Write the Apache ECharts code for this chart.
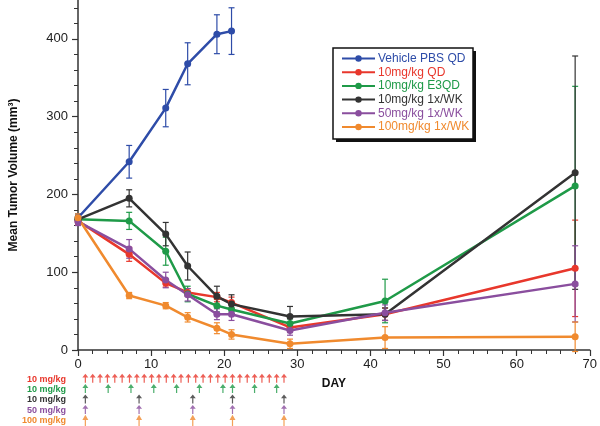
<!DOCTYPE html>
<html><head><meta charset="utf-8">
<script src="https://cdn.jsdelivr.net/npm/echarts@6/dist/echarts.min.js"></script>
<style>html,body{margin:0;padding:0;background:#fff}#c{width:600px;height:426px}</style>
</head><body><div id="c"></div>
<script>
// ---- data ----
const days = [0, 7, 12, 15, 19, 21, 29, 42, 68];
const names = ['Vehicle PBS QD', '10mg/kg QD', '10mg/kg E3QD', '10mg/kg 1x/WK', '50mg/kg 1x/WK', '100mg/kg 1x/WK'];
const colors = ['#2E4CA8', '#E8372C', '#1F9A48', '#333333', '#8A4E9E', '#F08A2E'];
const vehicle = [170, 242, 311, 368, 406, 410];
const vehicleErr = [5, 21, 24, 27, 25, 30];
const qd10 = [166, 123, 86, 74, 68, 61, 29, 46, 105];
const qd10Err = [5, 9, 5, 5, 6, 7, 6, 8, 62];
const e3qd10 = [168, 166, 127, 72, 57, 52, 34, 63, 211];
const e3qd10Err = [5, 11, 18, 10, 8, 6, 6, 28, 128];
const wk10 = [168, 195, 149, 108, 69, 59, 43, 46, 228];
const wk10Err = [5, 11, 15, 18, 13, 12, 13, 8, 150];
const wk50 = [165, 130, 90, 71, 46, 46, 25, 48, 85];
const wk50Err = [5, 12, 10, 8, 7, 8, 6, 10, 49];
const wk100 = [170, 70, 57, 42, 28, 20, 8, 16, 17];
const wk100Err = [5, 4, 4, 6, 7, 6, 6, 14, 19];
const yMajorTicks = [0, 100, 200, 300, 400];
const yMinorTicks = [20, 40, 60, 80, 120, 140, 160, 180, 220, 240, 260, 280, 320, 340, 360, 380, 420, 440];
// dosing schedule
const doseRows = ['10 mg/kg', '10 mg/kg', '10 mg/kg', '50 mg/kg', '100 mg/kg'];
const doseColors = ['#E8372C', '#1F9A48', '#333333', '#8A4E9E', '#F08A2E'];
const doseQD = [1, 2, 3, 4, 5, 6, 7, 8, 9, 10, 11, 12, 13, 14, 15, 16, 17, 18, 19, 20, 21, 22, 23, 24, 25, 26, 27, 28];
const doseE3QD = [1, 4.1, 7.2, 10.3, 13.4, 16.5, 19.7, 21, 24, 27];
const doseWeekly = [1, 8.3, 15.6, 21, 28];

// ---- build ----
const means = [vehicle, qd10, e3qd10, wk10, wk50, wk100];
const errs = [vehicleErr, qd10Err, e3qd10Err, wk10Err, wk50Err, wk100Err];
const series = [];
means.forEach((m, i) => {
  const c = colors[i];
  series.push({
    name: 'err' + i, type: 'custom', xAxisIndex: 0, yAxisIndex: 0, z: 1,
    data: m.map((v, k) => [days[k], v - errs[i][k], v + errs[i][k]]),
    renderItem: function (params, api) {
      const x = api.value(0);
      const p1 = api.coord([x, api.value(2)]);
      const p2 = api.coord([x, api.value(1)]);
      const w = 3;
      const st = { stroke: c, lineWidth: 1.2 };
      return { type: 'group', children: [
        { type: 'line', shape: { x1: p1[0], y1: p1[1], x2: p2[0], y2: p2[1] }, style: st },
        { type: 'line', shape: { x1: p1[0] - w, y1: p1[1], x2: p1[0] + w, y2: p1[1] }, style: st },
        { type: 'line', shape: { x1: p2[0] - w, y1: p2[1], x2: p2[0] + w, y2: p2[1] }, style: st }
      ] };
    },
    silent: true
  });
});
means.forEach((m, i) => {
  series.push({
    name: names[i], type: 'line', xAxisIndex: 0, yAxisIndex: 0, z: 3,
    data: m.map((v, k) => [days[k], v]),
    symbol: 'circle', symbolSize: 7,
    lineStyle: { color: colors[i], width: 2.5 },
    itemStyle: { color: colors[i] },
    animation: false
  });
});
const arrow = 'path://M3.5,0 L7,6 L4.2,6 L4.2,14 L2.8,14 L2.8,6 L0,6 Z';
const doseSets = [doseQD, doseE3QD, doseWeekly, doseWeekly, doseWeekly];
doseSets.forEach((ds, r) => {
  series.push({
    name: 'dose' + r, type: 'scatter', xAxisIndex: 2, yAxisIndex: 2,
    data: ds.map(d => [d, r]),
    symbol: arrow, symbolSize: r === 4 ? [6, 12] : [6, 9], symbolOffset: [0, r === 4 ? 0 : -1],
    itemStyle: { color: doseColors[r] }, silent: true
  });
});

const rich = {};
doseColors.forEach((c, i) => { rich['r' + i] = { color: c, fontSize: 9, fontWeight: 'bold', fontFamily: 'Liberation Sans' }; });

const option = {
  animation: false,
  backgroundColor: '#fff',
  textStyle: { fontFamily: 'Liberation Sans' },
  grid: [
    { left: 78, right: 7, top: 0, bottom: 76 },
    { left: 78, right: 7, top: 374, height: 52 }
  ],
  graphic: [
    { type: 'rect', z: 0, shape: { x: 336, y: 51, width: 140, height: 91 }, style: { fill: '#111' } },
    { type: 'rect', z: 0, shape: { x: 333, y: 48, width: 140, height: 91 }, style: { fill: '#fff', stroke: '#111', lineWidth: 1.5 } }
  ],
  xAxis: [
    { type: 'value', gridIndex: 0, min: 0, max: 70, interval: 10,
      axisLine: { lineStyle: { color: '#333', width: 1.5 } },
      axisTick: { length: 6, lineStyle: { color: '#333', width: 1.2 } },
      minorTick: { show: true, splitNumber: 5, length: 4, lineStyle: { color: '#333', width: 1 } },
      axisLabel: { color: '#222', fontSize: 13, margin: 8 },
      splitLine: { show: false },
      name: 'DAY', nameLocation: 'middle', nameGap: 28,
      nameTextStyle: { fontWeight: 'bold', fontSize: 12, color: '#111' } },
    { type: 'value', gridIndex: 0, min: 0, max: 70, show: false },
    { type: 'value', gridIndex: 1, min: 0, max: 70, show: false }
  ],
  yAxis: [
    { type: 'value', gridIndex: 0, min: 0, max: 450, position: 'left',
      axisLine: { show: true, lineStyle: { color: '#333', width: 1.5 } },
      axisTick: { show: true, length: 6, customValues: yMajorTicks, lineStyle: { color: '#333', width: 1.2 } },
      axisLabel: { customValues: yMajorTicks, color: '#222', fontSize: 13, margin: 10 },
      splitLine: { show: false },
      name: 'Mean Tumor Volume (mm³)', nameLocation: 'middle', nameGap: 58,
      nameTextStyle: { fontWeight: 'bold', fontSize: 12, color: '#111' } },
    { type: 'value', gridIndex: 0, min: 0, max: 450, position: 'left',
      axisLine: { show: false },
      axisTick: { show: true, length: 4, customValues: yMinorTicks, lineStyle: { color: '#333', width: 1 } },
      axisLabel: { show: false }, splitLine: { show: false } },
    { type: 'category', gridIndex: 1, data: doseRows, inverse: true,
      axisLine: { show: false }, axisTick: { show: false }, splitLine: { show: false },
      axisLabel: { interval: 0, margin: 12, formatter: (v, i) => '{r' + i + '|' + v + '}', rich: rich } }
  ],
  legend: {
    orient: 'vertical', left: 334, top: 48,
    data: names.map((n, i) => ({ name: n, textStyle: { color: colors[i] } })),
    itemWidth: 33, itemHeight: 8, itemGap: 0.7, padding: [4, 7, 5, 7],
    textStyle: { fontSize: 12, fontFamily: 'Liberation Sans', padding: [0, 0, 0, -2], lineHeight: 13 },
    backgroundColor: 'transparent'
  },
  series: series
};
const chart = echarts.init(document.getElementById('c'), null, { renderer: 'canvas' });
chart.setOption(option);
</script></body></html>
